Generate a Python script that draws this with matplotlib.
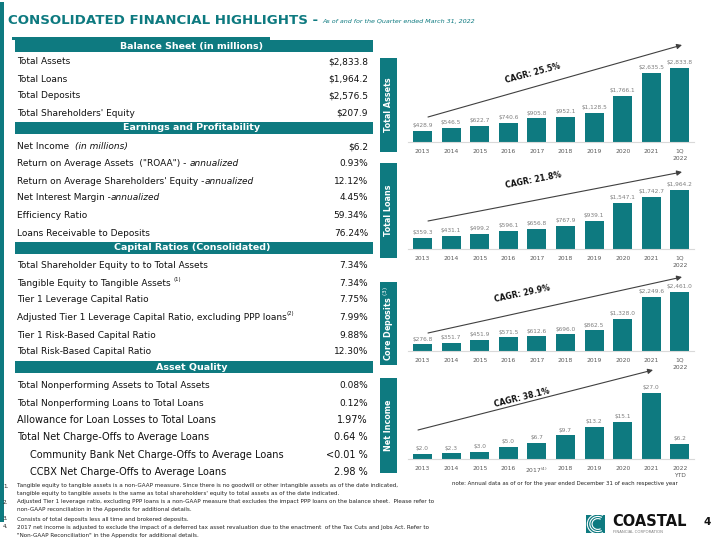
import numpy as np
import matplotlib
matplotlib.use('Agg')
import matplotlib.pyplot as plt
from matplotlib.patches import Rectangle, Arc, FancyArrowPatch

W, H = 720, 540
TEAL = '#0E7A80'
GRAY = '#7F7F7F'

# ---- chart data ----
years = ['2013', '2014', '2015', '2016', '2017', '2018', '2019', '2020', '2021', '1Q\n2022']
ni_years = ['2013', '2014', '2015', '2016', '2017$^{(4)}$', '2018', '2019', '2020', '2021', '2022\nYTD']
total_assets = [428.9, 546.5, 622.7, 740.6, 905.8, 952.1, 1128.5, 1766.1, 2635.5, 2833.8]
total_loans = [359.3, 431.1, 499.2, 596.1, 656.8, 767.9, 939.1, 1547.1, 1742.7, 1964.2]
core_deposits = [276.8, 351.7, 451.9, 571.5, 612.6, 696.0, 862.5, 1328.0, 2249.6, 2461.0]
net_income = [2.0, 2.3, 3.0, 5.0, 6.7, 9.7, 13.2, 15.1, 27.0, 6.2]
cagr = ['CAGR: 25.5%', 'CAGR: 21.8%', 'CAGR: 29.9%', 'CAGR: 38.1%']

# ---- table data ----
balance_labels = [[('Total Assets', 'n')], [('Total Loans', 'n')], [('Total Deposits', 'n')],
                  [("Total Shareholders' Equity", 'n')]]
balance_values = ['$2,833.8', '$1,964.2', '$2,576.5', '$207.9']
earn_labels = [[('Net Income  ', 'n'), ('(in millions)', 'i')],
               [('Return on Average Assets  ("ROAA") - ', 'n'), ('annualized', 'i')],
               [("Return on Average Shareholders' Equity -", 'n'), ('annualized', 'i')],
               [('Net Interest Margin -', 'n'), ('annualized', 'i')],
               [('Efficiency Ratio', 'n')],
               [('Loans Receivable to Deposits', 'n')]]
earn_values = ['$6.2', '0.93%', '12.12%', '4.45%', '59.34%', '76.24%']
capital_labels = [[('Total Shareholder Equity to to Total Assets', 'n')],
                  [('Tangible Equity to Tangible Assets ', 'n'), ('(1)', 's')],
                  [('Tier 1 Leverage Capital Ratio', 'n')],
                  [('Adjusted Tier 1 Leverage Capital Ratio, excluding PPP loans', 'n'), ('(2)', 's')],
                  [('Tier 1 Risk-Based Capital Ratio', 'n')],
                  [('Total Risk-Based Capital Ratio', 'n')]]
capital_values = ['7.34%', '7.34%', '7.75%', '7.99%', '9.88%', '12.30%']
quality_labels = ['Total Nonperforming Assets to Total Assets',
                  'Total Nonperforming Loans to Total Loans',
                  'Allowance for Loan Losses to Total Loans',
                  'Total Net Charge-Offs to Average Loans',
                  'Community Bank Net Charge-Offs to Average Loans',
                  'CCBX Net Charge-Offs to Average Loans']
quality_values = ['0.08%', '0.12%', '1.97%', '0.64 %', '<0.01 %', '2.98 %']

footnotes = [
    ('1.', 'Tangible equity to tangible assets is a non-GAAP measure. Since there is no goodwill or other intangible assets as of the date indicated,'),
    ('', "tangible equity to tangible assets is the same as total shareholders' equity to total assets as of the date indicated."),
    ('2.', 'Adjusted Tier 1 leverage ratio, excluding PPP loans is a non-GAAP measure that excludes the impact PPP loans on the balance sheet.  Please refer to'),
    ('', 'non-GAAP reconciliation in the Appendix for additional details.'),
    ('3.', 'Consists of total deposits less all time and brokered deposits.'),
    ('4.', '2017 net income is adjusted to exclude the impact of a deferred tax asset revaluation due to the enactment  of the Tax Cuts and Jobs Act. Refer to'),
    ('', '"Non-GAAP Reconciliation" in the Appendix for additional details.'),
]


def fx(x):
    return x / W


def fy(y):
    return 1 - y / H


fig = plt.figure(figsize=(7.2, 5.4), dpi=100)
renderer = fig.canvas.get_renderer()


def rect(x0, y0, x1, y1, color=TEAL):
    fig.add_artist(Rectangle((fx(x0), fy(y1)), (x1 - x0) / W, (y1 - y0) / H,
                             transform=fig.transFigure, color=color, lw=0, zorder=0))


def esc(s):
    return s.replace('$', r'\$')


def fit(t, width):
    w = t.get_window_extent(renderer).width
    t.set_fontsize(t.get_fontsize() * width / w)


# left strip and title
rect(0, 2, 4, 522)
narrow = ['Liberation Sans Narrow', 'DejaVu Sans']
title = fig.text(fx(8), fy(20), 'CONSOLIDATED FINANCIAL HIGHLIGHTS -', fontsize=15,
                 fontweight='bold', color=TEAL, family=narrow, va='center')
fit(title, 310)
sub = fig.text(fx(322), fy(22), 'As of and for the Quarter ended March 31, 2022', fontsize=7,
               style='italic', color=TEAL, family=narrow, va='center')
fit(sub, 155)
rect(12, 37, 270, 40)


# ---- left table ----
def header(y, text):
    rect(15, y - 6, 373, y + 6)
    fig.text(fx(192), fy(y), text, color='white', fontweight='bold', fontsize=6.8,
             ha='center', va='center')


def row(y, parts, value, size=6.5, x=17):
    cur = x
    for txt, st in parts:
        kw = dict(fontsize=size, va='center', ha='left', color='#111111')
        yy = y
        if st == 'i':
            kw['style'] = 'italic'
        if st == 's':
            kw['fontsize'] = size * 0.6
            yy = y - 3
        t = fig.text(fx(cur), fy(yy), esc(txt), **kw)
        cur += t.get_window_extent(renderer).width
    fig.text(fx(368), fy(y), esc(value), fontsize=size, va='center', ha='right', color='#111111')


header(46, 'Balance Sheet (in millions)')
for y, p, v in zip([62, 79, 96, 113], balance_labels, balance_values):
    row(y, p, v)
header(128, 'Earnings and Profitability')
for y, p, v in zip([147, 164, 181, 198, 215, 233], earn_labels, earn_values):
    row(y, p, v)
header(248, 'Capital Ratios (Consolidated)')
for y, p, v in zip([265, 283, 300, 317, 335, 352], capital_labels, capital_values):
    row(y, p, v)
header(367, 'Asset Quality')
q_y = [385, 403, 420, 437, 455, 472]
for i, (y, lab, v) in enumerate(zip(q_y, quality_labels, quality_values)):
    size = 6.5 if i < 2 else 7.0
    x = 30 if i >= 4 else 17
    row(y, [(lab, 'n')], v, size=size, x=x)

for (num, txt), y in zip(footnotes, [486, 494, 502, 510, 519, 527, 535]):
    if num:
        fig.text(fx(3), fy(y), num, fontsize=4.1, va='center', color='#222222')
    fig.text(fx(17), fy(y), txt, fontsize=4.1, va='center', color='#222222')


# ---- right bar panels ----
def panel(values, labels, baseline, scale, ymax, name, box, arrow, ctext, cpos, rot):
    h = ymax * scale
    ax = fig.add_axes([fx(408.2), fy(baseline), 286 / W, h / H])
    x = np.arange(len(values))
    ax.bar(x, values, width=0.66, color=TEAL)
    for xi, v in zip(x, values):
        ax.annotate(f'\\${v:,.1f}', (xi, v), xytext=(0, 2), textcoords='offset points',
                    ha='center', va='bottom', fontsize=4.2, color=GRAY)
    ax.set_xlim(-0.5, 9.5)
    ax.set_ylim(0, ymax)
    ax.set_xticks(x)
    ax.set_xticklabels(labels, fontsize=4.3, color='#595959')
    for lbl in ax.get_xticklabels():
        lbl.set_linespacing(1.6)
    ax.tick_params(length=0, pad=5)
    ax.set_yticks([])
    for s in ['top', 'right', 'left']:
        ax.spines[s].set_visible(False)
    ax.spines['bottom'].set_color('#D9D9D9')
    ax.patch.set_visible(False)
    # side label box
    rect(380, box[0], 397, box[1])
    fig.text(fx(388.5), fy((box[0] + box[1]) / 2), name, rotation=90, color='white',
             fontweight='bold', fontsize=5.8, ha='center', va='center')
    # growth arrow
    fig.add_artist(FancyArrowPatch(
        (fx(arrow[0]), fy(arrow[1])), (fx(arrow[2]), fy(arrow[3])),
        transform=fig.transFigure, arrowstyle='-|>,head_length=3,head_width=1.5',
        color='#404040', lw=0.8, shrinkA=0, shrinkB=0))
    fig.text(fx(cpos[0]), fy(cpos[1]), ctext, rotation=rot, fontsize=5.6, fontweight='bold',
             color='#111111', ha='center', va='center', rotation_mode='anchor')


panel(total_assets, years, 142, 74 / 2833.8, 3400, 'Total Assets', (58, 152),
      (428, 117, 682, 45), cagr[0], (533, 73), 15)
panel(total_loans, years, 249, 59 / 1964.2, 2300, 'Total Loans', (163, 258),
      (428, 221, 682, 172), cagr[1], (533, 180), 11)
panel(core_deposits, years, 351, 59 / 2461.0, 2900, 'Core Deposits $^{(3)}$', (282, 365),
      (428, 333, 682, 277), cagr[2], (522, 294), 12)
panel(net_income, ni_years, 459, 66 / 27.0, 31, 'Net Income', (378, 473),
      (418, 430, 653, 370), cagr[3], (522, 398), 14)

fig.text(fx(452), fy(483), 'note: Annual data as of or for the year ended December 31 of each respective year',
         fontsize=3.9, va='center', color='#222222')

# ---- logo and page number ----
lax = fig.add_axes([fx(586), fy(533), 19 / W, 18 / H])
lax.set_facecolor(TEAL)
lax.set_xlim(0, 1)
lax.set_ylim(0, 1)
for r in [0.55, 0.42, 0.3]:
    lax.add_patch(Arc((0.62, 0.5), 2 * r, 2 * r, theta1=60, theta2=300, color='white', lw=0.8))
lax.set_xticks([])
lax.set_yticks([])
for s in lax.spines.values():
    s.set_visible(False)
fig.text(fx(612), fy(522), 'COASTAL', fontsize=10.5, fontweight='bold', color='#111111', va='center')
fig.text(fx(613), fy(532), 'FINANCIAL CORPORATION', fontsize=2.8, color='#7F7F7F', va='center')
fig.text(fx(703), fy(522), '4', fontsize=7.5, fontweight='bold', color='#111111', va='center')

fig.savefig('out.png', dpi=100)
